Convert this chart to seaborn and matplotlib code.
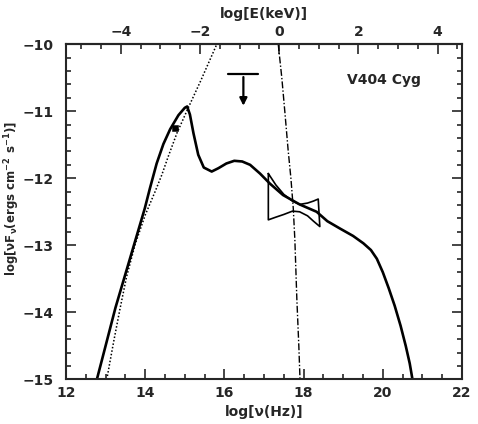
import matplotlib
matplotlib.use("Agg")
import matplotlib.pyplot as plt
import seaborn as sns
import numpy as np
import pandas as pd

# total model spectrum (solid)
model_x = [12.78, 13.0, 13.25, 13.53, 13.78, 13.99, 14.12, 14.29, 14.46, 14.63, 14.84, 15.0, 15.06,
           15.13, 15.22, 15.34, 15.48, 15.68, 15.85, 16.05, 16.25, 16.45, 16.65, 16.9, 17.15, 17.48,
           17.9, 18.33, 18.6, 18.92, 19.25, 19.51, 19.7, 19.85, 20.0, 20.15, 20.3, 20.45, 20.58, 20.68, 20.75]
model_y = [-15.0, -14.5, -13.93, -13.37, -12.87, -12.45, -12.15, -11.78, -11.49, -11.27, -11.06, -10.95, -10.93,
           -11.05, -11.33, -11.65, -11.84, -11.9, -11.85, -11.78, -11.74, -11.75, -11.8, -11.93, -12.08, -12.25,
           -12.39, -12.5, -12.64, -12.75, -12.86, -12.97, -13.07, -13.2, -13.4, -13.64, -13.9, -14.2, -14.5, -14.76, -15.0]

# companion star (dotted)
star_x = [13.03, 13.2, 13.36, 13.53, 13.75, 14.0, 14.25, 14.42, 14.58, 14.8, 15.08, 15.4, 15.81]
star_y = [-15.0, -14.45, -13.96, -13.47, -12.98, -12.55, -12.2, -11.95, -11.68, -11.33, -10.96, -10.55, -10.0]

# disc component (dash-dot)
disc_x = [17.36, 17.45, 17.53, 17.61, 17.68, 17.74, 17.78, 17.83, 17.88, 17.91]
disc_y = [-10.0, -10.5, -11.03, -11.58, -12.0, -12.45, -12.92, -13.8, -14.5, -15.0]

# X-ray bowtie outline
bow_x = [17.11, 17.3, 17.5, 17.72, 17.9, 18.1, 18.25, 18.37, 18.41, 18.25, 18.1, 17.9, 17.72, 17.5, 17.3, 17.11, 17.11]
bow_y = [-11.93, -12.1, -12.24, -12.34, -12.39, -12.37, -12.34, -12.31, -12.72, -12.64, -12.56, -12.5, -12.49, -12.54, -12.58, -12.62, -11.93]

# optical point and upper limit
point_x = [14.75]
point_y = [-11.25]
ulim_x = 16.48
ulim_bar = [16.1, 16.85]
ulim_y = [-10.45, -10.96]

sns.set_style("ticks")
plt.rcParams["font.family"] = ["DejaVu Sans"]
plt.rcParams["font.weight"] = "bold"
plt.rcParams["mathtext.default"] = "bf"

fig = plt.figure(figsize=(4.78, 4.24), dpi=100)
ax = fig.add_axes([0.138, 0.105, 0.8285, 0.791])

sns.lineplot(x=model_x, y=model_y, sort=False, estimator=None, color="black", lw=1.9, ax=ax)
sns.lineplot(x=star_x, y=star_y, sort=False, estimator=None, color="black", lw=1.1,
             linestyle=(0, (1, 1.3)), ax=ax)
sns.lineplot(x=disc_x, y=disc_y, sort=False, estimator=None, color="black", lw=1.0,
             linestyle=(0, (5, 1.5, 1, 1.5)), ax=ax)
sns.lineplot(x=bow_x, y=bow_y, sort=False, estimator=None, color="black", lw=1.2, ax=ax)
sns.scatterplot(x=point_x, y=point_y, marker="s", s=22, color="black", edgecolor="black", ax=ax)

ax.plot(ulim_bar, [ulim_y[0], ulim_y[0]], color="black", lw=1.6)
ax.annotate("", xy=(ulim_x, ulim_y[1]), xytext=(ulim_x, ulim_y[0]),
            arrowprops=dict(arrowstyle="-|>", color="black", lw=1.6, mutation_scale=11))

ax.text(19.1, -10.54, "V404 Cyg", fontsize=10, fontweight="bold", va="center", ha="left")

ax.set_xlim(12, 22)
ax.set_ylim(-15, -10)
ax.set_xticks(np.arange(12, 23, 2))
ax.set_xticks(np.arange(12, 22.01, 0.5), minor=True)
ax.set_yticks(np.arange(-15, -9.9, 1))
ax.set_yticks(np.arange(-15, -9.99, 0.2), minor=True)
ax.set_xticklabels([str(v) for v in range(12, 23, 2)])
ax.set_yticklabels(["\u221215", "\u221214", "\u221213", "\u221212", "\u221211", "\u221210"])

ax.tick_params(which="both", direction="in", top=False, right=True, width=1.2, labelsize=10)
ax.tick_params(which="major", length=7)
ax.tick_params(which="minor", length=3.5)
ax.tick_params(axis="y", pad=9)
ax.tick_params(axis="x", pad=5)
for sp in ax.spines.values():
    sp.set_linewidth(1.5)
    sp.set_visible(True)

ax.set_xlabel("log[ν(Hz)]", fontsize=10, fontweight="bold", labelpad=3)
ax.set_ylabel("log[νF$_{ν}$(ergs cm$^{-2}$ s$^{-1}$)]", fontsize=8.5, fontweight="bold")
ax.yaxis.set_label_coords(-0.112, 0.54)

top = ax.secondary_xaxis("top", functions=(lambda x: x - 17.383, lambda e: e + 17.383))
top.set_xticks([-4, -2, 0, 2, 4])
top.set_xticks(np.arange(-5.0, 4.7, 0.5), minor=True)
top.set_xticklabels(["\u22124", "\u22122", "0", "2", "4"])
top.tick_params(which="both", direction="in", width=1.2, labelsize=10, pad=4)
top.tick_params(which="major", length=7)
top.tick_params(which="minor", length=3.5)
top.set_xlabel("log[E(keV)]", fontsize=10, fontweight="bold", labelpad=5)
top.spines["top"].set_linewidth(1.5)

fig.savefig("out.png", dpi=100)
